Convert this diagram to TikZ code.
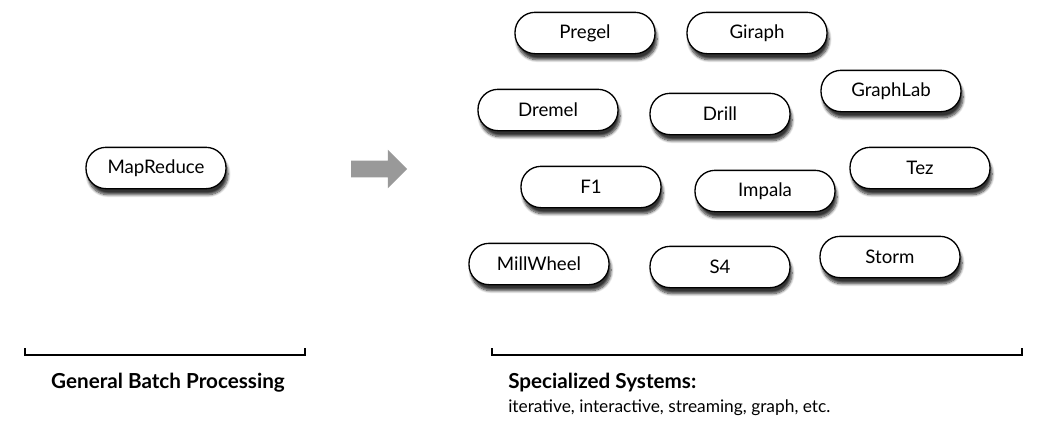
\documentclass[tikz,border=0pt]{standalone}
\usepackage{fontspec}
\setmainfont{Lato}
\usetikzlibrary{shapes.arrows, shadows.blur}

\begin{document}
\begin{tikzpicture}[x=0.75pt, y=-0.75pt,
		sys/.style={rectangle, rounded corners=15pt, draw, line width=1pt, fill=white,
			minimum width=105pt, minimum height=31pt, inner sep=0pt, font=\fontsize{14}{16}\selectfont,
			blur shadow={shadow xshift=1.5pt, shadow yshift=-4.5pt, shadow blur steps=8, shadow opacity=80}},
		lbl/.style={font=\bfseries\fontsize{15.5}{18}\selectfont, inner sep=0pt}]
		\useasboundingbox (0,0) rectangle (1045,430);

		\node[sys] (mr) at (156,168) {MapReduce};

		\node[single arrow, fill=gray!80, inner sep=6pt, minimum height=42pt,
			single arrow head extend=8.25pt] (arr) at (375,169) {};

		\node[sys] (pregel) at (585,33) {Pregel};
		\node[sys] (giraph) at (757,33) {Giraph};
		\node[sys] (graphlab) at (891,91) {GraphLab};
		\node[sys] (dremel) at (548,110) {Dremel};
		\node[sys] (drill) at (720,114) {Drill};
		\node[sys] (tez) at (920,168) {Tez};
		\node[sys] (f1) at (591,187) {F1};
		\node[sys] (impala) at (765,191) {Impala};
		\node[sys] (storm) at (890,257) {Storm};
		\node[sys] (millwheel) at (539,264) {MillWheel};
		\node[sys] (s4) at (720,267) {S4};

		\draw[line width=1pt] (25,348) -- (25,355) -- (305,355) -- (305,348);
		\draw[line width=1pt] (492,348) -- (492,355) -- (1022,355) -- (1022,348);

		\node[lbl] (gen) at (168,383) {General Batch Processing};
		\node[lbl, anchor=west] (spec) at (508,383) {Specialized Systems:};
		\node[anchor=west, inner sep=0pt, font=\fontsize{13}{15}\selectfont] (ex) at (508,408)
			{iterative, interactive, streaming, graph, etc.};
	\end{tikzpicture}
\end{document}
